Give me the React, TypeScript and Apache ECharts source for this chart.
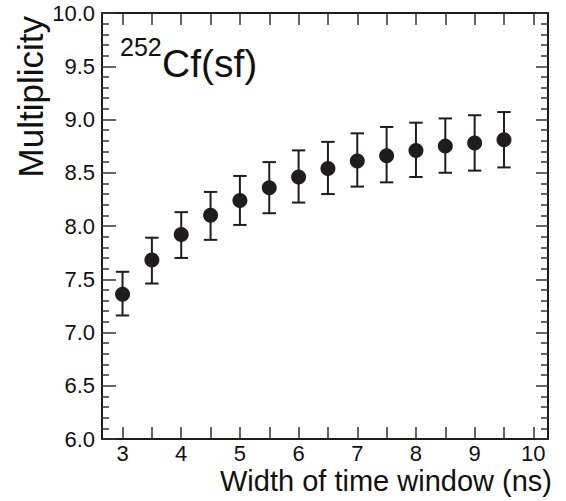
import React, { useEffect, useRef } from "react";
import * as echarts from "echarts";

const windowWidths = [3, 3.5, 4, 4.5, 5, 5.5, 6, 6.5, 7, 7.5, 8, 8.5, 9, 9.5];
const multiplicity = [7.36, 7.68, 7.92, 8.1, 8.24, 8.36, 8.46, 8.54, 8.61, 8.66, 8.71, 8.75, 8.78, 8.81];
const errLow = [7.16, 7.46, 7.7, 7.87, 8.01, 8.12, 8.22, 8.3, 8.37, 8.41, 8.46, 8.5, 8.52, 8.55];
const errHigh = [7.57, 7.89, 8.13, 8.32, 8.47, 8.6, 8.71, 8.79, 8.87, 8.93, 8.97, 9.01, 9.04, 9.07];
const xTickValues = [3, 3.5, 4, 4.5, 5, 5.5, 6, 6.5, 7, 7.5, 8, 8.5, 9, 9.5, 10];
const xLabelValues = [3, 4, 5, 6, 7, 8, 9, 10];

const FONT = "'Liberation Sans', Arial, Helvetica, sans-serif";
const INK = "#1f1c1d";

export default function App() {
  const ref = useRef<HTMLDivElement>(null);
  useEffect(() => {
    if (!ref.current) return;
    const chart = echarts.init(ref.current, undefined, { renderer: "svg" });
    const xCommon = {
      type: "value",
      min: 2.65,
      max: 10.25,
      axisLine: { show: true, onZero: false, lineStyle: { color: INK, width: 2 } },
      splitLine: { show: false },
    };
    const yCommon = {
      type: "value",
      min: 6,
      max: 10,
      interval: 0.5,
      axisLine: { show: true, onZero: false, lineStyle: { color: INK, width: 2 } },
      axisTick: { show: true, inside: true, length: 14, lineStyle: { color: "#333", width: 1.5 } },
      minorTick: { show: true, splitNumber: 5, length: 7, lineStyle: { color: "#333", width: 1.5 } },
      splitLine: { show: false },
      minorSplitLine: { show: false },
    };
    const option: any = {
      animation: false,
      backgroundColor: "#ffffff",
      grid: { left: 102, top: 13, right: 18, bottom: 62, containLabel: false, outerBoundsMode: "none" },
      xAxis: [
        {
          ...xCommon,
          position: "bottom",
          axisTick: {
            show: true,
            inside: true,
            length: 12,
            customValues: xTickValues,
            lineStyle: { color: "#333", width: 1.5 },
          },
          axisLabel: {
            show: true,
            customValues: xLabelValues,
            margin: 3,
            color: "#111",
            fontSize: 22,
            fontFamily: FONT,
          },
        },
        {
          ...xCommon,
          position: "top",
          axisTick: {
            show: true,
            inside: true,
            length: 12,
            customValues: xTickValues,
            lineStyle: { color: "#333", width: 1.5 },
          },
          axisLabel: { show: false },
        },
      ],
      yAxis: [
        {
          ...yCommon,
          position: "left",
          axisLabel: {
            show: true,
            margin: 7,
            color: "#111",
            fontSize: 22,
            fontFamily: FONT,
            formatter: (v: number) => v.toFixed(1),
          },
        },
        {
          ...yCommon,
          position: "right",
          axisTick: { ...yCommon.axisTick, length: 12 },
          axisLabel: { show: false },
        },
      ],
      series: [
        {
          type: "custom",
          xAxisIndex: 0,
          yAxisIndex: 0,
          data: windowWidths.map((x, i) => [x, errLow[i], errHigh[i]]),
          renderItem: (params: any, api: any) => {
            const lo = api.coord([api.value(0), api.value(1)]);
            const hi = api.coord([api.value(0), api.value(2)]);
            const half = 6.7;
            const style = { stroke: INK, lineWidth: 2 };
            return {
              type: "group",
              children: [
                { type: "line", shape: { x1: lo[0], y1: lo[1], x2: hi[0], y2: hi[1] }, style },
                { type: "line", shape: { x1: lo[0] - half, y1: lo[1], x2: lo[0] + half, y2: lo[1] }, style },
                { type: "line", shape: { x1: hi[0] - half, y1: hi[1], x2: hi[0] + half, y2: hi[1] }, style },
              ],
            };
          },
          z: 2,
        },
        {
          type: "scatter",
          xAxisIndex: 0,
          yAxisIndex: 0,
          data: windowWidths.map((x, i) => [x, multiplicity[i]]),
          symbol: "circle",
          symbolSize: 15,
          itemStyle: { color: INK, opacity: 1 },
          z: 3,
        },
      ],
      graphic: [
        {
          type: "text",
          x: 552,
          y: 481,
          style: {
            text: "Width of time window (ns)",
            align: "right",
            verticalAlign: "middle",
            fontSize: 29,
            fontFamily: FONT,
            fill: "#111",
          },
        },
        {
          type: "text",
          x: 30,
          y: 16,
          rotation: Math.PI / 2,
          style: {
            text: "Multiplicity",
            align: "right",
            verticalAlign: "middle",
            fontSize: 35,
            fontFamily: FONT,
            fill: "#111",
          },
        },
        {
          type: "text",
          x: 120,
          y: 47,
          style: {
            text: "252",
            align: "left",
            verticalAlign: "middle",
            fontSize: 25,
            fontFamily: FONT,
            fill: "#111",
          },
        },
        {
          type: "text",
          x: 162,
          y: 63,
          style: {
            text: "Cf(sf)",
            align: "left",
            verticalAlign: "middle",
            fontSize: 39,
            fontFamily: FONT,
            fill: "#111",
          },
        },
      ],
    };
    chart.setOption(option);
    return () => chart.dispose();
  }, []);
  return (
    <div
      ref={ref}
      style={{ position: "fixed", left: 0, top: 0, width: 566, height: 501, background: "#fff" }}
    />
  );
}
